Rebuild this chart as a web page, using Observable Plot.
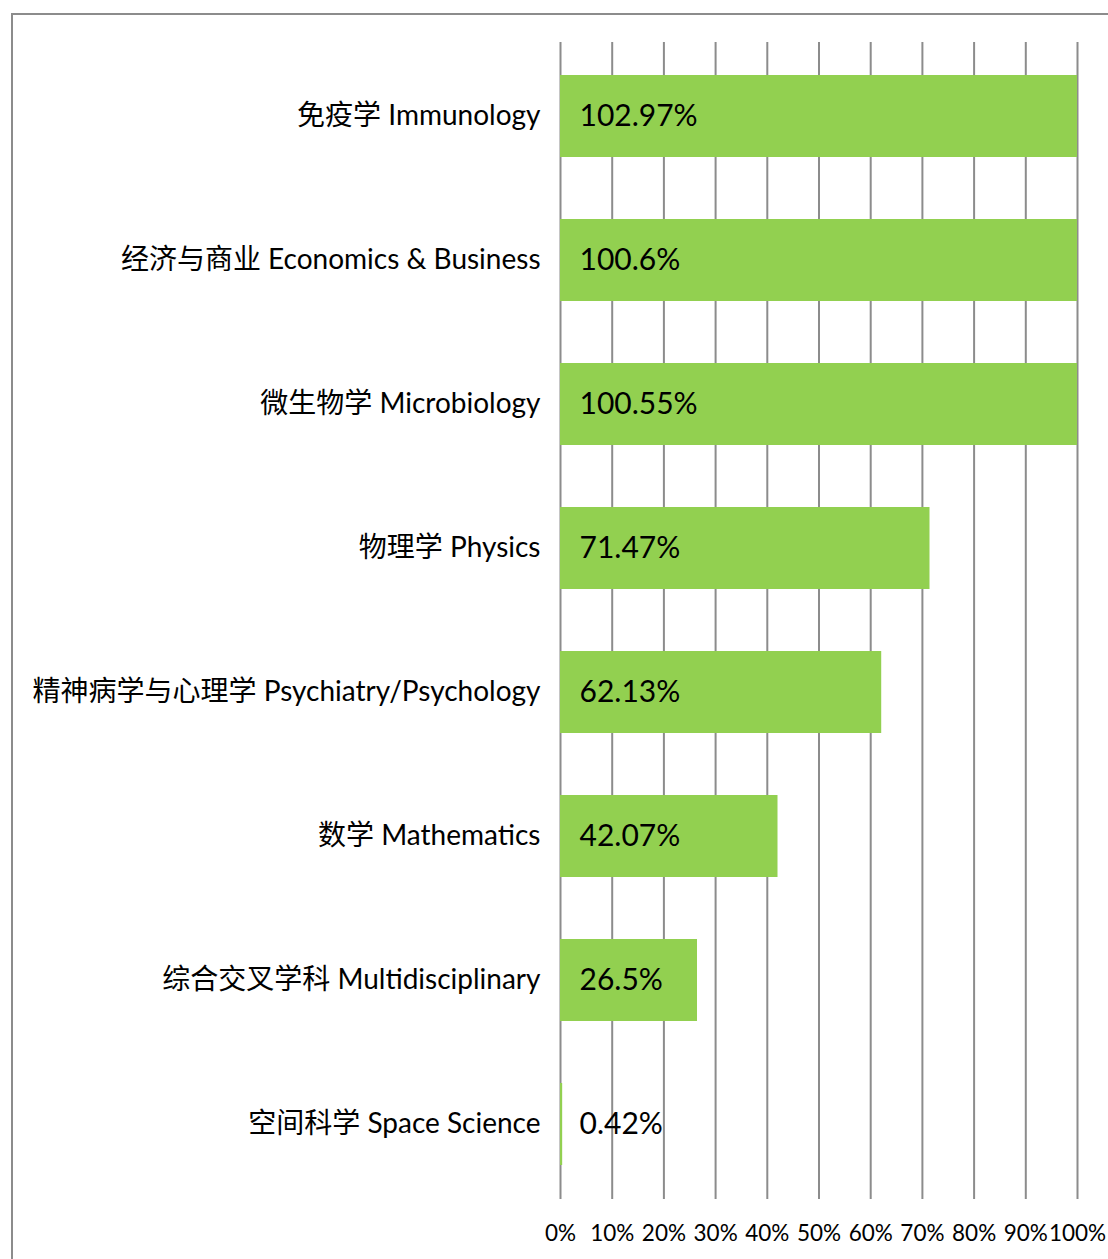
<!DOCTYPE html>
<html>
<head>
<meta charset="utf-8">
<script src="https://cdn.jsdelivr.net/npm/d3@7"></script>
<script src="https://cdn.jsdelivr.net/npm/@observablehq/plot@0.6"></script>
<style>
  html, body { margin: 0; padding: 0; background: #fff; }
  #wrap { position: relative; width: 1108px; height: 1259px; overflow: hidden; }
  #frame { position: absolute; left: 11px; top: 13px; width: 1120px; height: 1280px; border: 2px solid #8c8c8c; box-sizing: border-box; }
  #chart { position: absolute; left: 0; top: 0; }
</style>
</head>
<body>
<div id="wrap"><div id="frame"></div><div id="chart"></div></div>
<script>
const categories = [
  "免疫学 Immunology",
  "经济与商业 Economics & Business",
  "微生物学 Microbiology",
  "物理学 Physics",
  "精神病学与心理学 Psychiatry/Psychology",
  "数学 Mathematics",
  "综合交叉学科 Multidisciplinary",
  "空间科学 Space Science"
];
const values = [102.97, 100.6, 100.55, 71.47, 62.13, 42.07, 26.5, 0.42];
const valueLabels = ["102.97%", "100.6%", "100.55%", "71.47%", "62.13%", "42.07%", "26.5%", "0.42%"];
const xTicks = [0, 10, 20, 30, 40, 50, 60, 70, 80, 90, 100];

const data = categories.map((c, i) => ({cat: c, value: values[i], label: valueLabels[i]}));

const chart = Plot.plot({
  width: 1108,
  height: 1259,
  marginLeft: 560,
  marginRight: 31,
  marginTop: 42,
  marginBottom: 60,
  style: {fontFamily: "Lato, 'Noto Sans CJK SC', sans-serif", background: "transparent", color: "#000"},
  x: {domain: [0, 100]},
  y: {domain: categories, paddingInner: 0.43, paddingOuter: 0.215},
  marks: [
    Plot.gridX(xTicks, {stroke: "#8c8c8c", strokeOpacity: 1, strokeWidth: 2}),
    Plot.barX(data, {x: "value", y: "cat", fill: "#92D050", clip: true}),
    Plot.text(data, {x: 0, y: "cat", text: "label", textAnchor: "start", dx: 19, fontSize: 30, fill: "#000"}),
    Plot.axisX({ticks: xTicks, tickFormat: d => d + "%", tickSize: 0, tickPadding: 26, fontSize: 22.5, label: null}),
    Plot.axisY({tickSize: 0, tickPadding: 20, fontSize: 28, label: null})
  ]
});
document.getElementById("chart").appendChild(chart);
</script>
</body>
</html>
